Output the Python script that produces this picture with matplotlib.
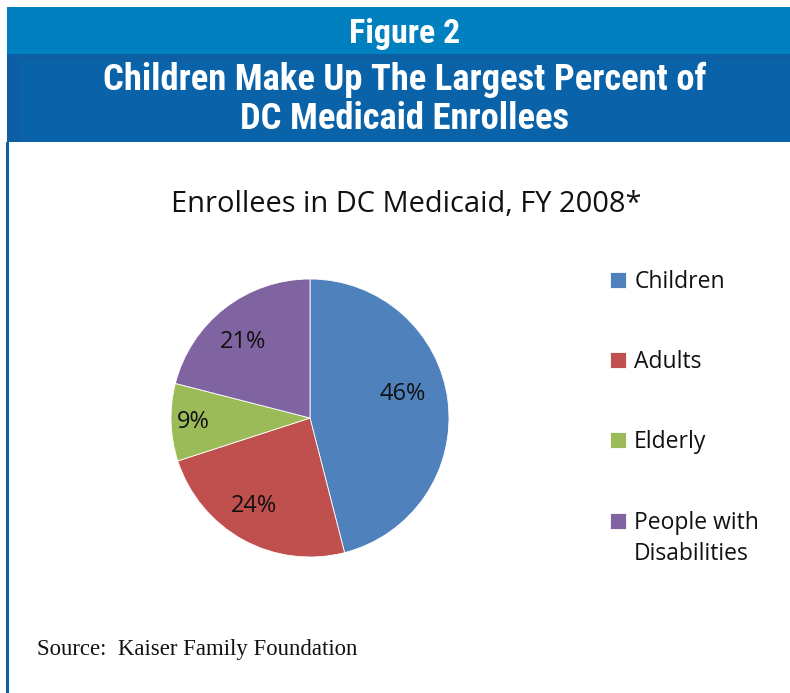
import numpy as np
import matplotlib.pyplot as plt
from matplotlib import font_manager
from matplotlib.patches import Rectangle

categories = ["Children", "Adults", "Elderly", "People with"]
extra_line = "Disabilities"
shares = [46, 24, 9, 21]
colors = ["#4F81BD", "#C0504D", "#9BBB59", "#8064A2"]
label_dist = [0.69, 0.75, 0.84, 0.73]
label_shift = [7.5, -3.8, 0.0, 3.4]  # degrees off the wedge bisector

W, H = 790, 693
fig = plt.figure(figsize=(W / 100, H / 100), dpi=100)
fig.patch.set_facecolor("white")

have = {f.name for f in font_manager.fontManager.ttflist}
narrow = [n for n in ["Roboto Condensed", "DejaVu Sans Condensed", "Liberation Sans Narrow",
                      "Roboto"] if n in have]
hdr_font = narrow[0] if narrow else "DejaVu Sans"


def px(x0, y0, w, h):
    # pixel box (top-left origin) -> figure fraction
    return (x0 / W, 1 - (y0 + h) / H, w / W, h / H)


# header bands and left border
bg = fig.add_axes([0, 0, 1, 1])
bg.set_xlim(0, W)
bg.set_ylim(H, 0)
bg.axis("off")
bg.add_patch(Rectangle((7, 7), W - 7, 47, color="#0080BF", lw=0))
bg.add_patch(Rectangle((7, 54), W - 7, 88, color="#0A63A8", lw=0))
bg.add_patch(Rectangle((7, 54), W - 7, 7, color="#0E5EA3", lw=0))
bg.add_patch(Rectangle((7, 54), 13, 88, color="#0D5EA2", lw=0))
bg.add_patch(Rectangle((6, 142), 3, H - 142, color="#0A63A8", lw=0))

bg.text(405, 34, "Figure 2", color="white", fontsize=24.5, fontweight="bold",
        ha="center", va="center", family=hdr_font)
bg.text(405, 80, "Children Make Up The Largest Percent of", color="white",
        fontsize=26.4, fontweight="bold", ha="center", va="center", family=hdr_font)
bg.text(405, 119, "DC Medicaid Enrollees", color="white",
        fontsize=26.4, fontweight="bold", ha="center", va="center", family=hdr_font)

bg.text(406, 205, "Enrollees in DC Medicaid, FY 2008*", color="#111111",
        fontsize=20.9, ha="center", va="center", family=["Open Sans", "DejaVu Sans"])

bg.text(37, 650, "Source:  Kaiser Family Foundation", color="#111111",
        fontsize=16.4, ha="left", va="center", family=["Liberation Serif", "DejaVu Serif"])

# pie
ax = fig.add_axes(px(171, 279, 278, 278))
wedges, _ = ax.pie(shares, colors=colors, startangle=90, counterclock=False,
                   wedgeprops=dict(edgecolor="white", linewidth=0.6))
ax.set_xlim(-1, 1)
ax.set_ylim(-1, 1)
ax.set_aspect("equal")
for w, v, d, s in zip(wedges, shares, label_dist, label_shift):
    ang = np.deg2rad((w.theta1 + w.theta2) / 2 + s)
    ax.text(d * np.cos(ang), d * np.sin(ang), f"{v}%", ha="center", va="center",
            fontsize=17, color="#111111", family=["Open Sans", "DejaVu Sans"])

# legend
x0, y0 = 601 / W, 1 - 261 / H
leg = ax.legend(wedges, categories, loc="upper left", bbox_to_anchor=(x0, y0),
                bbox_transform=fig.transFigure, frameon=False,
                prop={"family": "Open Sans", "size": 16.5},
                handlelength=0.7, handleheight=0.7, handletextpad=0.35,
                labelspacing=2.45, borderaxespad=0)
for t in leg.get_texts():
    t.set_color("#111111")

# second line of the last legend entry, under its first line
fig.canvas.draw()
last = leg.get_texts()[-1].get_window_extent()
bg.text(last.x0, H - last.y0 + 7, extra_line, color="#111111", fontsize=16.5,
        ha="left", va="top", family="Open Sans")

fig.savefig("out.png", dpi=100)
